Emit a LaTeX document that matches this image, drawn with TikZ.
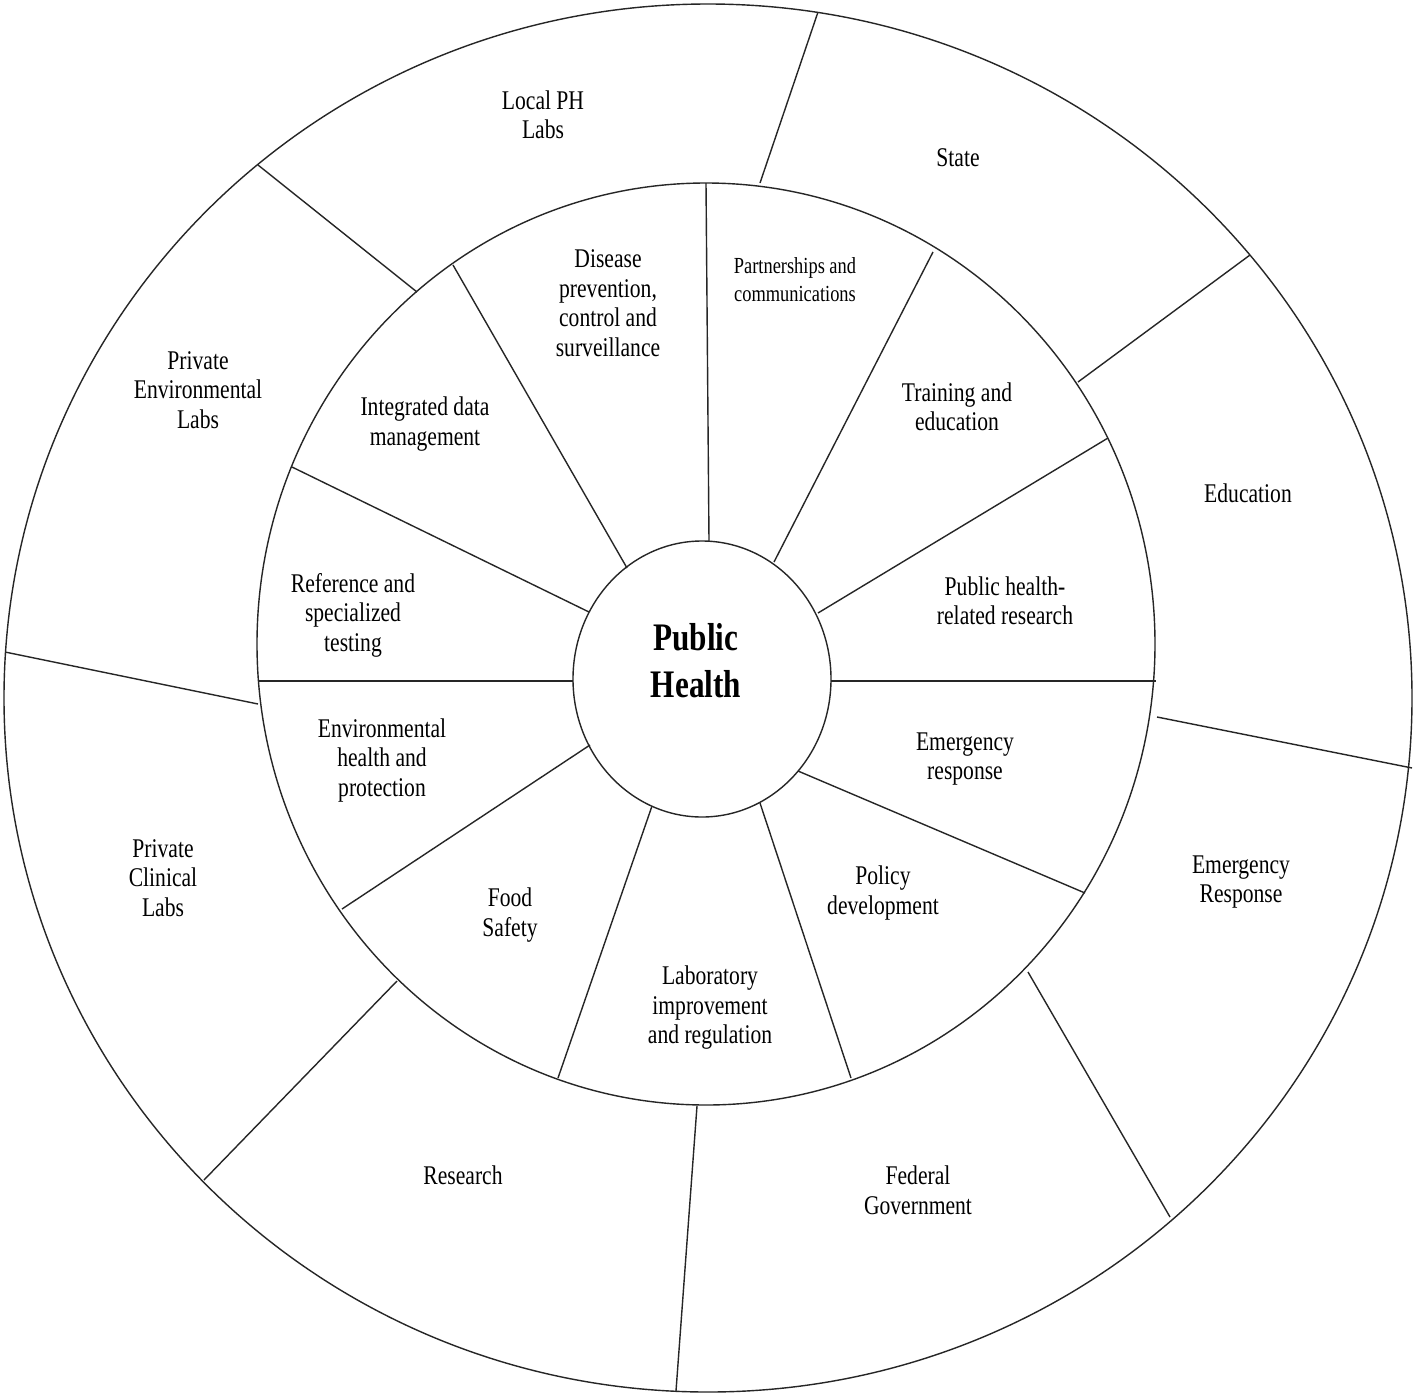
\documentclass[tikz,border=0pt]{standalone}
\usepackage{fontspec}
\setmainfont{Liberation Serif}[FakeStretch=0.8]
\begin{document}
\begin{tikzpicture}[x=1pt,y=-1pt,
  ring/.style={draw=black!85,line width=1.4pt},
  spoke/.style={draw=black!85,line width=1.4pt},
  lbl/.style={align=center,inner sep=0pt,font=\fontsize{27}{29.5}\selectfont},
  lblsmall/.style={align=center,inner sep=0pt,font=\fontsize{23}{28}\selectfont},
  hub/.style={align=center,inner sep=0pt,font=\bfseries\fontsize{39}{47}\selectfont}]
\useasboundingbox (0,0) rectangle (1414,1393);
\fill[white] (0,0) rectangle (1414,1393);
% rings
\draw[ring] (708,698) ellipse [x radius=704, y radius=694];
\draw[ring] (706,644) ellipse [x radius=449, y radius=461];
\draw[ring] (702,679) ellipse [x radius=129, y radius=138];
% middle-ring spokes
\draw[spoke] (706,183) -- (709,541);
\draw[spoke] (933,252) -- (774,562);
\draw[spoke] (1108,438) -- (818,613);
\draw[spoke] (831,681) -- (1156,681);
\draw[spoke] (798,771) -- (1085,893);
\draw[spoke] (760,803) -- (851,1078);
\draw[spoke] (652,806) -- (558,1078);
\draw[spoke] (590,745) -- (342,909);
\draw[spoke] (258,681) -- (573,681);
\draw[spoke] (589,612) -- (292,467);
\draw[spoke] (627,568) -- (453,265);
% outer-ring spokes
\draw[spoke] (760,183) -- (818,12);
\draw[spoke] (1078,382) -- (1250,255);
\draw[spoke] (1157,717) -- (1412,768);
\draw[spoke] (1028,972) -- (1170,1217);
\draw[spoke] (697,1106) -- (676,1391);
\draw[spoke] (397,981) -- (204,1180);
\draw[spoke] (258,704) -- (5,652);
\draw[spoke] (417,292) -- (258,165);
% hub
\node[hub] (ph) at (696,661) {Public\\Health};
% middle ring labels
\node[lbl] (dis) at (608,303) {Disease\\prevention,\\control and\\surveillance};
\node[lblsmall] (part) at (795,280) {Partnerships and\\communications};
\node[lbl] (train) at (957,407) {Training and\\education};
\node[lbl] (phr) at (1005,601) {Public health-\\related research};
\node[lbl] (emr) at (965,759) {Emergency\\response};
\node[lbl] (pol) at (883,893) {Policy\\development};
\node[lbl] (lab) at (710,1008) {Laboratory\\improvement\\and regulation};
\node[lbl] (food) at (510,915) {Food\\Safety};
\node[lbl] (env) at (382,760) {Environmental\\health and\\protection};
\node[lbl] (ref) at (353,615) {Reference and\\specialized\\testing};
\node[lbl] (idm) at (425,424) {Integrated data\\management};
% outer ring labels
\node[lbl] (loc) at (543,115) {Local PH\\Labs};
\node[lbl] (state) at (958,158) {State};
\node[lbl] (edu) at (1248,493) {Education};
\node[lbl] (emR) at (1241,882) {Emergency\\Response};
\node[lbl] (fed) at (918,1190) {Federal\\Government};
\node[lbl] (res) at (463,1175) {Research};
\node[lbl] (pcl) at (163,878) {Private\\Clinical\\Labs};
\node[lbl] (pel) at (198,390) {Private\\Environmental\\Labs};
\end{tikzpicture}
\end{document}
